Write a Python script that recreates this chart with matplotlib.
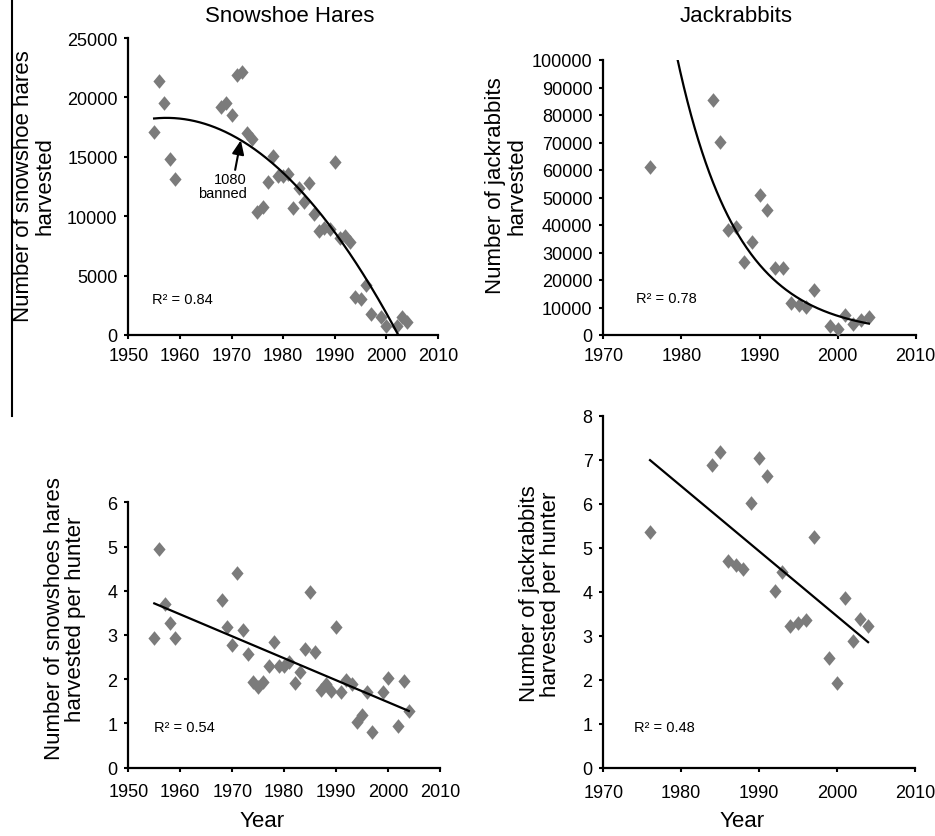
import numpy as np
import matplotlib
matplotlib.use("Agg")
import matplotlib.pyplot as plt
from matplotlib.lines import Line2D

plt.rcParams['font.family'] = ['Liberation Sans', 'DejaVu Sans']

# ---------------- data ----------------
hare_years = [1955, 1956, 1957, 1958, 1959, 1968, 1969, 1970, 1971, 1972, 1973, 1974,
              1975, 1976, 1977, 1978, 1979, 1980, 1981, 1982, 1983, 1984, 1985, 1986,
              1987, 1988, 1989, 1990, 1991, 1992, 1993, 1994, 1995, 1996, 1997, 1999,
              2000, 2002, 2003, 2004]
hare_harvest = [17060, 21410, 19500, 14790, 13130, 19170, 19500, 18520, 21890, 22170, 16980, 16500,
                10330, 10780, 12850, 15040, 13410, 13410, 13550, 10690, 12350, 11170, 12800, 10210,
                8730, 8980, 8920, 14590, 8140, 8300, 7860, 3170, 3060, 4210, 1770, 1540,
                790, 790, 1540, 1070]
hare_per_hunter = [2.92, 4.94, 3.70, 3.27, 2.93, 3.80, 3.19, 2.78, 4.39, 3.12, 2.57, 1.94,
                   1.81, 1.94, 2.29, 2.83, 2.30, 2.30, 2.38, 1.91, 2.15, 2.68, 3.96, 2.62,
                   1.76, 1.89, 1.74, 3.17, 1.71, 1.98, 1.89, 1.03, 1.18, 1.70, 0.81, 1.70,
                   2.02, 0.93, 1.96, 1.28]

jack_years = [1976, 1984, 1985, 1986, 1987, 1988, 1989, 1990, 1991, 1992, 1993, 1994,
              1995, 1996, 1997, 1999, 2000, 2001, 2002, 2003, 2004]
jack_harvest = [61200, 85450, 70300, 38200, 39400, 26700, 33900, 50900, 45450, 24240, 24240, 11640,
                11030, 10060, 16480, 3390, 2180, 7270, 4000, 5580, 6670]
jack_per_hunter = [5.35, 6.87, 7.18, 4.69, 4.60, 4.52, 6.01, 7.03, 6.64, 4.03, 4.44, 3.23,
                   3.29, 3.37, 5.24, 2.49, 1.93, 3.85, 2.89, 3.38, 3.23]

r2_labels = ["R\u00b2 = 0.84", "R\u00b2 = 0.78", "R\u00b2 = 0.54", "R\u00b2 = 0.48"]
titles = ["Snowshoe Hares", "Jackrabbits"]
ylabels = ["Number of snowshoe hares\nharvested",
           "Number of jackrabbits\nharvested",
           "Number of snowshoes hares\nharvested per hunter",
           "Number of jackrabbits\nharvested per hunter"]
xlabel = "Year"
annot_text = "1080\nbanned"
ban_year = 1972

# ---------------- layout ----------------
W, H = 935, 837
fig = plt.figure(figsize=(W / 100, H / 100), dpi=100)


def rect(l, t, r, b):
    return [l / W, 1 - b / H, (r - l) / W, (b - t) / H]


def fx(x):
    return x / W


def fy(y):
    return 1 - y / H


ax1 = fig.add_axes(rect(128.3, 39, 438, 336))
ax2 = fig.add_axes(rect(603.3, 61, 915.7, 336))
ax3 = fig.add_axes(rect(128.3, 503.3, 440, 768.5))
ax4 = fig.add_axes(rect(603.3, 416.7, 914.8, 769))

MARK = [(0, 1.2), (1, 0), (0, -1.2), (-1, 0), (0, 1.2)]
MCOL = '#7b7b7b'
TICKFS = 13
LABFS = 16


def style(ax, xlim, xticks, ylim, yticks, xpad):
    ax.set_xlim(*xlim)
    ax.set_ylim(*ylim)
    ax.set_xticks(xticks)
    ax.set_yticks(yticks)
    for s in ['top', 'right']:
        ax.spines[s].set_visible(False)
    for s in ['left', 'bottom']:
        ax.spines[s].set_linewidth(1.6)
    ax.tick_params(direction='out', length=3.2, width=1.5, labelsize=TICKFS)
    ax.tick_params(axis='x', pad=xpad)
    ax.tick_params(axis='y', pad=4.5)
    ax.patch.set_alpha(0)


def scatter(ax, x, y):
    ax.plot(x, y, linestyle='none', marker=MARK, markersize=10.5,
            color=MCOL, markeredgewidth=0, zorder=3)


# Panel 1: snowshoe hare harvest, quadratic trend
scatter(ax1, hare_years, hare_harvest)
c1 = np.polyfit(hare_years, hare_harvest, 2)
xs1 = np.linspace(min(hare_years), max(hare_years), 300)
ax1.plot(xs1, np.polyval(c1, xs1), color='black', lw=1.6, zorder=4)
style(ax1, (1950, 2010), range(1950, 2011, 10), (0, 25000), range(0, 25001, 5000), 5.3)
ax1.annotate('', xy=(ban_year - 0.2, np.polyval(c1, ban_year - 0.2)),
             xytext=(1970.7, 13900),
             arrowprops=dict(arrowstyle='-|>,head_length=0.7,head_width=0.3',
                             color='black', lw=1.5, mutation_scale=12,
                             shrinkA=0, shrinkB=0), zorder=5)
ax1.text(1972.9, 12550, annot_text, ha='right', va='center', multialignment='right',
         fontsize=10.5, linespacing=1.0, zorder=5)

# Panel 2: jackrabbit harvest, exponential trend
scatter(ax2, jack_years, jack_harvest)
c2 = np.polyfit(jack_years, np.log(jack_harvest), 1)
xs2 = np.linspace(min(jack_years), max(jack_years), 300)
ax2.plot(xs2, np.exp(np.polyval(c2, xs2)), color='black', lw=1.6, zorder=4)
style(ax2, (1970, 2010), range(1970, 2011, 10), (0, 100000), range(0, 100001, 10000), 5.3)

# Panel 3: snowshoe hare per hunter, linear trend
scatter(ax3, hare_years, hare_per_hunter)
c3 = np.polyfit(hare_years, hare_per_hunter, 1)
xs3 = np.array([min(hare_years), max(hare_years)])
ax3.plot(xs3, np.polyval(c3, xs3), color='black', lw=1.6, zorder=4)
style(ax3, (1950, 2010), range(1950, 2011, 10), (0, 6), range(0, 7), 8)

# Panel 4: jackrabbit per hunter, linear trend
scatter(ax4, jack_years, jack_per_hunter)
c4 = np.polyfit(jack_years, jack_per_hunter, 1)
xs4 = np.array([min(jack_years), max(jack_years)])
ax4.plot(xs4, np.polyval(c4, xs4), color='black', lw=1.6, zorder=4)
style(ax4, (1970, 2010), range(1970, 2011, 10), (0, 8), range(0, 9), 8)

# R^2 labels
for (x, y), s in zip([(152, 300), (636, 299), (154, 728), (634, 728)], r2_labels):
    fig.text(fx(x), fy(y), s, fontsize=10.5, ha='left', va='center')

# titles
fig.text(fx(290), fy(17), titles[0], fontsize=LABFS, ha='center', va='center')
fig.text(fx(736), fy(17), titles[1], fontsize=LABFS, ha='center', va='center')

# y labels
for (x, y), s in zip([(34, 186), (506, 186), (65, 619), (540, 594)], ylabels):
    fig.text(fx(x), fy(y), s, fontsize=LABFS, rotation=90, ha='center', va='center',
             multialignment='center', linespacing=1.0)

# x labels
fig.text(fx(262), fy(822), xlabel, fontsize=LABFS, ha='center', va='center')
fig.text(fx(742), fy(822), xlabel, fontsize=LABFS, ha='center', va='center')

# vertical rule at left edge (scan artefact in original layout)
fig.add_artist(Line2D([fx(11.7), fx(11.7)], [fy(0), fy(417)], color='black', lw=1.5))

fig.savefig('out.png', dpi=100, facecolor='white')
